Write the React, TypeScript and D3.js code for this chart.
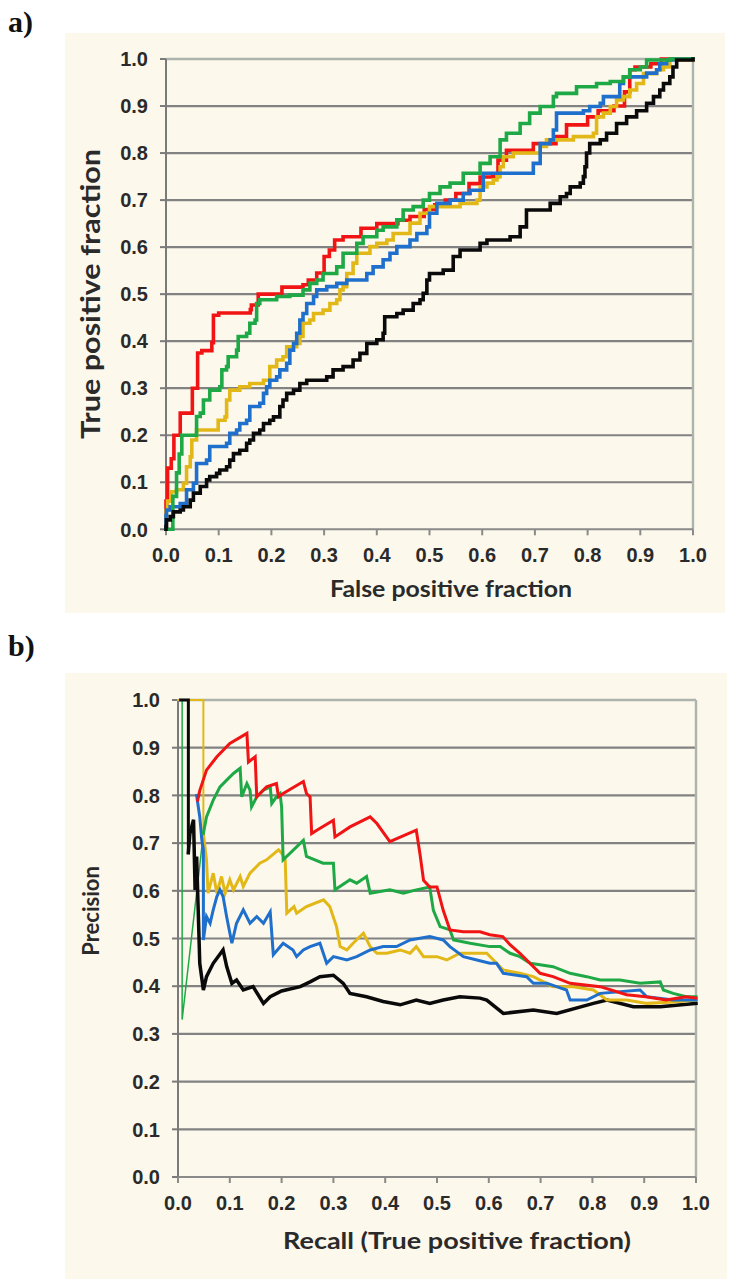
import React from "react";
import * as d3 from "d3";

type P = [number, number];

// ---------- Tick values ----------
const ticks: number[] = [0, 0.1, 0.2, 0.3, 0.4, 0.5, 0.6, 0.7, 0.8, 0.9, 1.0];

// ---------- a) ROC curves: [false positive fraction, true positive fraction] ----------
const rocRed: P[] = [[0,0],[0,0.06],[0.003,0.13],[0.01,0.15],[0.015,0.2],[0.027,0.225],[0.027,0.247],[0.05,0.25],[0.05,0.3],[0.06,0.3],[0.06,0.375],[0.068,0.38],[0.087,0.397],[0.09,0.455],[0.1,0.46],[0.16,0.467],[0.162,0.477],[0.17,0.477],[0.175,0.5],[0.22,0.515],[0.26,0.52],[0.27,0.53],[0.286,0.545],[0.3,0.58],[0.31,0.594],[0.32,0.615],[0.336,0.622],[0.37,0.64],[0.4,0.65],[0.44,0.657],[0.463,0.665],[0.49,0.68],[0.51,0.69],[0.53,0.7],[0.55,0.714],[0.575,0.735],[0.596,0.749],[0.62,0.75],[0.63,0.785],[0.646,0.806],[0.697,0.82],[0.74,0.835],[0.76,0.86],[0.8,0.877],[0.82,0.89],[0.85,0.9],[0.87,0.93],[0.88,0.977],[0.89,0.983],[0.92,0.99],[0.94,1.0],[1,1]];
const rocGreen: P[] = [[0,0],[0.013,0],[0.013,0.07],[0.02,0.12],[0.025,0.16],[0.03,0.2],[0.058,0.2],[0.058,0.24],[0.065,0.247],[0.071,0.275],[0.083,0.296],[0.102,0.303],[0.106,0.339],[0.115,0.346],[0.118,0.367],[0.134,0.381],[0.137,0.41],[0.153,0.417],[0.159,0.438],[0.169,0.445],[0.172,0.48],[0.178,0.488],[0.21,0.495],[0.235,0.498],[0.26,0.509],[0.273,0.523],[0.286,0.53],[0.298,0.544],[0.324,0.558],[0.336,0.587],[0.362,0.608],[0.374,0.622],[0.4,0.636],[0.412,0.643],[0.438,0.658],[0.45,0.679],[0.469,0.686],[0.488,0.7],[0.5,0.714],[0.52,0.728],[0.539,0.736],[0.564,0.757],[0.596,0.778],[0.615,0.792],[0.634,0.828],[0.646,0.842],[0.672,0.863],[0.69,0.885],[0.71,0.899],[0.735,0.92],[0.741,0.927],[0.779,0.941],[0.817,0.948],[0.843,0.952],[0.868,0.962],[0.88,0.977],[0.9,0.983],[0.912,0.998],[0.956,1.0],[1,1]];
const rocYellow: P[] = [[0,0],[0,0.04],[0.003,0.06],[0.01,0.08],[0.02,0.084],[0.033,0.098],[0.039,0.133],[0.046,0.154],[0.049,0.19],[0.058,0.211],[0.096,0.211],[0.099,0.232],[0.112,0.239],[0.115,0.275],[0.121,0.296],[0.14,0.303],[0.159,0.31],[0.185,0.317],[0.197,0.346],[0.21,0.36],[0.222,0.367],[0.229,0.388],[0.248,0.395],[0.254,0.41],[0.26,0.438],[0.273,0.445],[0.28,0.459],[0.298,0.466],[0.311,0.48],[0.324,0.488],[0.33,0.509],[0.336,0.516],[0.343,0.544],[0.355,0.566],[0.362,0.587],[0.387,0.601],[0.4,0.608],[0.419,0.615],[0.431,0.629],[0.463,0.651],[0.482,0.672],[0.5,0.686],[0.545,0.686],[0.558,0.693],[0.59,0.7],[0.596,0.728],[0.609,0.736],[0.621,0.743],[0.628,0.75],[0.634,0.771],[0.64,0.792],[0.659,0.8],[0.71,0.814],[0.722,0.828],[0.741,0.828],[0.773,0.835],[0.811,0.842],[0.817,0.877],[0.83,0.885],[0.843,0.899],[0.855,0.913],[0.868,0.92],[0.88,0.934],[0.893,0.948],[0.906,0.969],[0.931,0.977],[0.944,0.983],[0.956,0.998],[1,1]];
const rocBlue: P[] = [[0,0],[0,0.03],[0.001,0.041],[0.008,0.048],[0.027,0.055],[0.039,0.084],[0.052,0.098],[0.058,0.14],[0.077,0.147],[0.083,0.176],[0.115,0.183],[0.121,0.204],[0.134,0.211],[0.14,0.225],[0.153,0.232],[0.159,0.261],[0.178,0.268],[0.185,0.289],[0.191,0.303],[0.197,0.317],[0.21,0.324],[0.216,0.339],[0.229,0.353],[0.235,0.381],[0.242,0.395],[0.248,0.417],[0.254,0.445],[0.26,0.459],[0.267,0.48],[0.28,0.495],[0.286,0.509],[0.305,0.516],[0.324,0.523],[0.343,0.53],[0.362,0.53],[0.381,0.544],[0.393,0.558],[0.412,0.573],[0.425,0.587],[0.438,0.601],[0.463,0.615],[0.476,0.629],[0.495,0.643],[0.5,0.672],[0.514,0.693],[0.539,0.7],[0.564,0.714],[0.577,0.721],[0.602,0.757],[0.684,0.757],[0.697,0.778],[0.71,0.82],[0.729,0.828],[0.735,0.849],[0.741,0.885],[0.792,0.89],[0.804,0.899],[0.824,0.906],[0.83,0.92],[0.861,0.948],[0.868,0.962],[0.912,0.97],[0.931,0.977],[0.937,0.99],[0.95,0.998],[0.962,1.0],[1,1]];
const rocBlack: P[] = [[0,0],[0,0.006],[0.001,0.02],[0.008,0.027],[0.014,0.037],[0.027,0.041],[0.033,0.048],[0.046,0.062],[0.052,0.077],[0.065,0.091],[0.077,0.105],[0.083,0.112],[0.096,0.119],[0.102,0.126],[0.115,0.133],[0.121,0.147],[0.128,0.161],[0.14,0.168],[0.153,0.183],[0.159,0.19],[0.166,0.204],[0.178,0.211],[0.185,0.225],[0.197,0.232],[0.204,0.239],[0.216,0.261],[0.222,0.275],[0.229,0.289],[0.242,0.296],[0.254,0.31],[0.267,0.317],[0.286,0.317],[0.305,0.324],[0.317,0.339],[0.336,0.346],[0.355,0.36],[0.368,0.374],[0.381,0.395],[0.4,0.403],[0.412,0.417],[0.415,0.452],[0.438,0.459],[0.45,0.466],[0.469,0.48],[0.482,0.488],[0.488,0.502],[0.495,0.53],[0.5,0.544],[0.526,0.551],[0.545,0.58],[0.558,0.594],[0.596,0.608],[0.609,0.615],[0.653,0.622],[0.672,0.643],[0.684,0.679],[0.729,0.693],[0.748,0.707],[0.76,0.714],[0.767,0.728],[0.786,0.736],[0.792,0.75],[0.795,0.771],[0.798,0.8],[0.804,0.82],[0.824,0.828],[0.836,0.842],[0.855,0.863],[0.874,0.877],[0.893,0.89],[0.912,0.906],[0.925,0.92],[0.937,0.934],[0.944,0.948],[0.956,0.962],[0.962,0.983],[0.969,0.998],[1,1]];

// ---------- b) Precision-recall curves: [recall, precision] ----------
const prBlackLead: P[] = [[0.005,1.0],[0.02,1.0],[0.02,0.68]];
const prBlack: P[] = [[0.02,0.68],[0.023,0.72],[0.03,0.749],[0.033,0.602],[0.036,0.672],[0.042,0.448],[0.049,0.392],[0.055,0.42],[0.068,0.448],[0.087,0.476],[0.094,0.441],[0.104,0.406],[0.113,0.413],[0.126,0.392],[0.145,0.399],[0.165,0.364],[0.178,0.378],[0.2,0.39],[0.236,0.399],[0.255,0.409],[0.274,0.42],[0.3,0.423],[0.319,0.406],[0.332,0.385],[0.364,0.378],[0.396,0.368],[0.429,0.361],[0.46,0.371],[0.486,0.364],[0.512,0.371],[0.544,0.378],[0.583,0.375],[0.596,0.371],[0.628,0.343],[0.686,0.35],[0.731,0.343],[0.802,0.364],[0.828,0.371],[0.879,0.357],[0.931,0.357],[1.0,0.364]];
const prRed: P[] = [[0.038,0.79],[0.042,0.81],[0.055,0.853],[0.075,0.881],[0.1,0.909],[0.133,0.93],[0.136,0.87],[0.149,0.881],[0.152,0.797],[0.171,0.818],[0.19,0.825],[0.194,0.797],[0.203,0.804],[0.242,0.829],[0.248,0.804],[0.255,0.797],[0.258,0.72],[0.268,0.727],[0.3,0.748],[0.303,0.713],[0.332,0.734],[0.371,0.755],[0.384,0.741],[0.409,0.703],[0.46,0.727],[0.467,0.678],[0.474,0.622],[0.486,0.608],[0.5,0.608],[0.512,0.559],[0.525,0.518],[0.551,0.514],[0.583,0.514],[0.602,0.508],[0.627,0.504],[0.641,0.487],[0.66,0.469],[0.699,0.427],[0.724,0.42],[0.757,0.406],[0.815,0.399],[0.866,0.382],[0.903,0.378],[0.942,0.371],[0.981,0.378],[1.0,0.375]];
const prGreenLead: P[] = [[0.008,1.0],[0.008,0.33],[0.049,0.72]];
const prGreen: P[] = [[0.049,0.72],[0.055,0.755],[0.068,0.79],[0.081,0.818],[0.094,0.832],[0.107,0.846],[0.12,0.857],[0.123,0.797],[0.133,0.825],[0.139,0.811],[0.142,0.776],[0.152,0.797],[0.165,0.811],[0.178,0.818],[0.181,0.783],[0.19,0.797],[0.197,0.804],[0.2,0.776],[0.203,0.665],[0.229,0.692],[0.242,0.706],[0.248,0.672],[0.28,0.658],[0.3,0.658],[0.303,0.602],[0.332,0.623],[0.345,0.616],[0.364,0.63],[0.371,0.595],[0.409,0.602],[0.435,0.595],[0.46,0.602],[0.486,0.608],[0.493,0.559],[0.506,0.525],[0.525,0.518],[0.532,0.497],[0.564,0.49],[0.602,0.483],[0.622,0.483],[0.641,0.469],[0.66,0.462],[0.68,0.448],[0.724,0.441],[0.757,0.427],[0.789,0.42],[0.815,0.413],[0.853,0.413],[0.892,0.406],[0.931,0.409],[0.937,0.392],[0.956,0.385],[0.981,0.378],[1.0,0.378]];
const prYellowLead: P[] = [[0.0,1.0],[0.049,1.0],[0.049,0.72]];
const prYellow: P[] = [[0.049,0.72],[0.055,0.665],[0.058,0.595],[0.068,0.637],[0.075,0.595],[0.084,0.63],[0.091,0.595],[0.1,0.623],[0.107,0.602],[0.12,0.63],[0.126,0.609],[0.139,0.637],[0.158,0.658],[0.171,0.665],[0.194,0.686],[0.2,0.679],[0.207,0.665],[0.21,0.553],[0.224,0.567],[0.229,0.553],[0.248,0.567],[0.281,0.581],[0.293,0.567],[0.306,0.525],[0.313,0.483],[0.326,0.476],[0.338,0.49],[0.358,0.511],[0.371,0.483],[0.384,0.469],[0.403,0.469],[0.429,0.476],[0.448,0.469],[0.46,0.483],[0.474,0.462],[0.5,0.462],[0.519,0.455],[0.544,0.469],[0.596,0.469],[0.609,0.455],[0.628,0.434],[0.66,0.427],[0.686,0.42],[0.724,0.399],[0.763,0.399],[0.802,0.392],[0.828,0.371],[0.866,0.371],[0.905,0.364],[0.956,0.367],[1.0,0.371]];
const prBlue: P[] = [[0.036,0.8],[0.042,0.755],[0.046,0.707],[0.049,0.686],[0.049,0.497],[0.055,0.546],[0.062,0.532],[0.068,0.56],[0.075,0.588],[0.081,0.602],[0.087,0.588],[0.094,0.545],[0.104,0.49],[0.113,0.532],[0.126,0.56],[0.139,0.532],[0.152,0.546],[0.165,0.532],[0.178,0.556],[0.184,0.466],[0.203,0.49],[0.222,0.476],[0.229,0.462],[0.242,0.476],[0.255,0.483],[0.274,0.49],[0.287,0.448],[0.3,0.462],[0.326,0.455],[0.345,0.462],[0.371,0.476],[0.396,0.483],[0.422,0.483],[0.448,0.497],[0.486,0.504],[0.512,0.497],[0.525,0.483],[0.551,0.462],[0.577,0.455],[0.602,0.448],[0.615,0.448],[0.628,0.427],[0.673,0.42],[0.686,0.406],[0.712,0.406],[0.731,0.399],[0.75,0.392],[0.757,0.371],[0.789,0.371],[0.815,0.385],[0.892,0.392],[0.905,0.378],[0.956,0.371],[1.0,0.371]];

const COLORS = {
  red: "#f01414",
  green: "#1ea946",
  yellow: "#e2b818",
  blue: "#1f6fcc",
  black: "#0a0a0a",
};

const BG = "#fdf8ec";
const GRID = "#828282";
const LIGHT = "#adb3ad";
const TICK_FONT = "'Liberation Sans', Arial, sans-serif";
const TITLE_FONT = "Lato, 'Open Sans', sans-serif";

type Series = { data: P[]; color: string; width: number };
type Title = { text: string; cx: number; cy: number; size: number; length?: number };

type ChartProps = {
  panel: { x: number; y: number; w: number; h: number };
  plot: { x0: number; x1: number; yTop: number; yBot: number };
  series: Series[];
  curve: d3.CurveFactory;
  xTitle: Title;
  yTitle: Title;
};

function Chart({ panel, plot, series, curve, xTitle, yTitle }: ChartProps) {
  const x = d3.scaleLinear().domain([0, 1]).range([plot.x0, plot.x1]);
  const y = d3.scaleLinear().domain([0, 1]).range([plot.yBot, plot.yTop]);
  const line = d3
    .line<P>()
    .x((d) => x(d[0]))
    .y((d) => y(d[1]))
    .curve(curve);
  return (
    <g>
      <rect x={panel.x} y={panel.y} width={panel.w} height={panel.h} fill={BG} />
      {ticks
        .filter((t) => t > 0 && t < 1)
        .map((t) => (
          <line key={"g" + t} x1={x(0)} x2={x(1)} y1={y(t)} y2={y(t)} stroke={GRID} strokeWidth={2.2} />
        ))}
      <line x1={x(0)} x2={x(1)} y1={y(1)} y2={y(1)} stroke={LIGHT} strokeWidth={2.4} />
      <line x1={x(1)} x2={x(1)} y1={y(1)} y2={y(0)} stroke={LIGHT} strokeWidth={2.4} />
      {/* axes */}
      <line x1={x(0)} x2={x(0)} y1={y(1)} y2={y(0)} stroke="#7a7a7a" strokeWidth={2} />
      <line x1={x(0)} x2={x(1)} y1={y(0)} y2={y(0)} stroke="#8a8a8a" strokeWidth={2} />
      {ticks.map((t) => (
        <line key={"yt" + t} x1={x(0) - 6} x2={x(0)} y1={y(t)} y2={y(t)} stroke="#7a7a7a" strokeWidth={2} />
      ))}
      {ticks.map((t) => (
        <line key={"xt" + t} x1={x(t)} x2={x(t)} y1={y(0)} y2={y(0) + 6} stroke="#8a8a8a" strokeWidth={2} />
      ))}
      {ticks.map((t) => (
        <text
          key={"yl" + t}
          x={x(0) - 18}
          y={y(t)}
          dy="0.36em"
          textAnchor="end"
          fontFamily={TICK_FONT}
          fontWeight="bold"
          fontSize={20}
          fill="#2a2a2a"
        >
          {d3.format(".1f")(t)}
        </text>
      ))}
      {ticks.map((t) => (
        <text
          key={"xl" + t}
          x={x(t)}
          y={y(0) + 33}
          textAnchor="middle"
          fontFamily={TICK_FONT}
          fontWeight="bold"
          fontSize={20}
          fill="#2a2a2a"
        >
          {d3.format(".1f")(t)}
        </text>
      ))}
      {/* series */}
      {series.map((s, i) => (
        <path
          key={"s" + i}
          d={line(s.data) || ""}
          fill="none"
          stroke={s.color}
          strokeWidth={s.width}
          strokeLinejoin="miter"
          strokeLinecap="square"
        />
      ))}
      <text
        x={xTitle.cx}
        y={xTitle.cy}
        textAnchor="middle"
        fontFamily={TITLE_FONT}
        fontWeight="bold"
        fontSize={xTitle.size}
        textLength={xTitle.length}
        lengthAdjust={xTitle.length ? "spacingAndGlyphs" : undefined}
        fill="#2a2a2a"
      >
        {xTitle.text}
      </text>
      <text
        transform={`translate(${yTitle.cx},${yTitle.cy}) rotate(-90)`}
        textAnchor="middle"
        fontFamily={TITLE_FONT}
        fontWeight="bold"
        fontSize={yTitle.size}
        textLength={yTitle.length}
        lengthAdjust={yTitle.length ? "spacingAndGlyphs" : undefined}
        fill="#2a2a2a"
      >
        {yTitle.text}
      </text>
    </g>
  );
}

export default function App() {
  return (
    <div style={{ position: "absolute", left: 0, top: 0 }}>
      <svg width={738} height={1283} style={{ display: "block", background: "#ffffff" }}>
        <text x={8} y={32} fontFamily="'Liberation Serif', 'DejaVu Serif', serif" fontWeight="bold" fontSize={30} fill="#111">
          a)
        </text>
        <text x={8} y={656} fontFamily="'Liberation Serif', 'DejaVu Serif', serif" fontWeight="bold" fontSize={30} fill="#111">
          b)
        </text>
        <Chart
          panel={{ x: 65, y: 33, w: 660, h: 580 }}
          plot={{ x0: 166, x1: 693, yTop: 59, yBot: 529.3 }}
          curve={d3.curveStepAfter}
          series={[
            { data: rocRed, color: COLORS.red, width: 3.6 },
            { data: rocYellow, color: COLORS.yellow, width: 3.6 },
            { data: rocBlue, color: COLORS.blue, width: 3.6 },
            { data: rocGreen, color: COLORS.green, width: 3.6 },
            { data: rocBlack, color: COLORS.black, width: 3.6 },
          ]}
          xTitle={{ text: "False positive fraction", cx: 451, cy: 597, size: 23, length: 242 }}
          yTitle={{ text: "True positive fraction", cx: 100, cy: 294, size: 26, length: 290 }}
        />
        <Chart
          panel={{ x: 65, y: 673, w: 662, h: 606 }}
          plot={{ x0: 178, x1: 696, yTop: 700, yBot: 1177 }}
          curve={d3.curveLinear}
          series={[
            { data: prGreenLead, color: COLORS.green, width: 1.5 },
            { data: prYellowLead, color: COLORS.yellow, width: 2 },
            { data: prBlackLead, color: COLORS.black, width: 3 },
            { data: prBlack, color: COLORS.black, width: 3.5 },
            { data: prYellow, color: COLORS.yellow, width: 3 },
            { data: prBlue, color: COLORS.blue, width: 3 },
            { data: prGreen, color: COLORS.green, width: 3 },
            { data: prRed, color: COLORS.red, width: 3 },
          ]}
          xTitle={{ text: "Recall (True positive fraction)", cx: 457, cy: 1249, size: 23, length: 348 }}
          yTitle={{ text: "Precision", cx: 99, cy: 911, size: 22 }}
        />
      </svg>
    </div>
  );
}
